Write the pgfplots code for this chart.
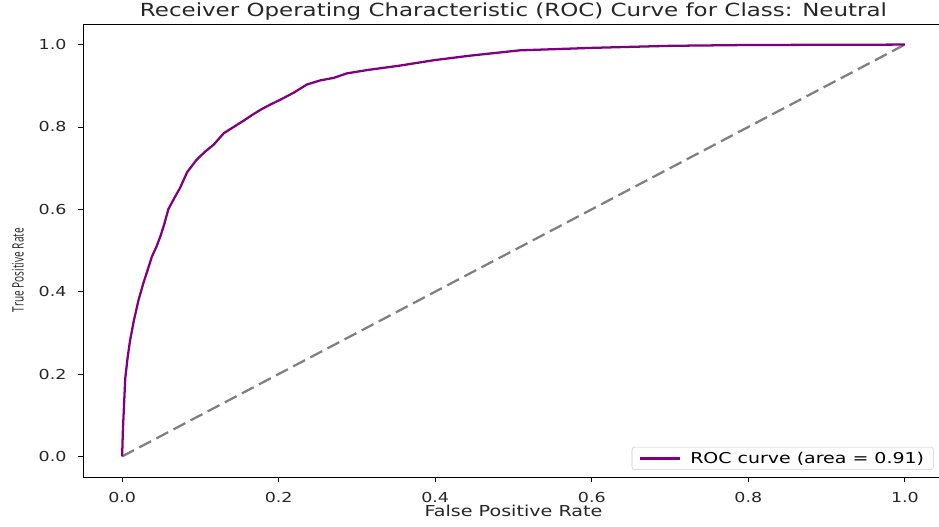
\documentclass[border=0pt]{standalone}
\usepackage{fontspec}
\setmainfont{DejaVu Sans}[FakeStretch=1.27]
\newfontfamily\ylabfont{Open Sans}
\usepackage{pgfplots}
\pgfplotsset{compat=1.18}
\definecolor{mplpurple}{HTML}{800080}
\definecolor{mplgray}{HTML}{808080}
\begin{document}
\begin{tikzpicture}
\begin{axis}[
  scale only axis,
  width=645.75pt, height=339.75pt,
  xmin=-0.05, xmax=1.05, ymin=-0.05, ymax=1.05,
  xtick={0,0.2,0.4,0.6,0.8,1.0},
  ytick={0,0.2,0.4,0.6,0.8,1.0},
  xticklabels={0.0,0.2,0.4,0.6,0.8,1.0},
  yticklabels={0.0,0.2,0.4,0.6,0.8,1.0},
  /pgf/number format/assume math mode=true,
  tick align=outside,
  major tick length=3.75pt,
  tick style={black, line width=0.6pt},
  axis line style={black, line width=0.6pt},
  axis x line*=bottom, axis y line*=left,
  tick label style={font=\fontsize{10.3pt}{12pt}\selectfont, color=black!85},
  xticklabel style={anchor=base, inner sep=0pt, yshift=-15.75pt},
  yticklabel style={anchor=east, inner sep=0pt, xshift=-8.5pt},
  xtick pos=bottom, ytick pos=left,
  xlabel={False Positive Rate},
  xlabel style={font=\fontsize{11.3pt}{13pt}\selectfont, color=black!85, at={(axis description cs:0.5,0)}, anchor=base, yshift=-30pt, inner sep=0pt},
  ylabel={\scalebox{1}[1.55]{\ylabfont\fontsize{7.6pt}{9pt}\selectfont True Positive Rate}},
  ylabel style={color=black!85, at={(axis description cs:-0.0755,0.457)}, anchor=center, rotate=0, inner sep=0pt},
  legend style={at={(axis description cs:0.988,0.0155)}, anchor=south east,
    draw=black!20, rounded corners=2pt, fill=white, fill opacity=0.8, text opacity=1,
    font=\fontsize{11.2pt}{13pt}\selectfont, inner xsep=5pt, inner ysep=1.5pt,
    row sep=0pt, nodes={inner sep=2pt}},
  legend cell align=left,
  legend image code/.code={\draw[#1] (0pt,0pt) -- (30pt,0pt);},
  clip=false,
]
\addplot[mplgray, line width=1.7pt, dash pattern=on 10pt off 4.5pt, forget plot] coordinates {(0,0) (1,1)};
\addplot[mplpurple, line width=1.7pt] coordinates {
(0,0) (0.001,0.065) (0.004,0.19) (0.007,0.24) (0.010,0.28) (0.015,0.33) (0.021,0.38)
(0.027,0.42) (0.033,0.455) (0.038,0.485) (0.044,0.51) (0.049,0.535) (0.054,0.565) (0.059,0.60) (0.066,0.625) (0.074,0.652)
(0.083,0.69) (0.095,0.72) (0.106,0.74) (0.117,0.757) (0.123,0.77) (0.130,0.785) (0.140,0.797) (0.155,0.815) (0.166,0.829)
(0.178,0.843) (0.190,0.855) (0.202,0.866) (0.219,0.883) (0.236,0.903) (0.253,0.913)
(0.270,0.919) (0.287,0.930) (0.3125,0.938) (0.355,0.949) (0.398,0.962)
(0.444,0.973) (0.508,0.986) (0.60,0.992) (0.70,0.997) (0.80,0.999) (1,1)
};
\addlegendentry{\hspace{5pt}ROC curve (area = 0.91)}
\draw[black, line width=0.6pt] (rel axis cs:0,1) -- (rel axis cs:1,1) -- (rel axis cs:1,0);
\node[anchor=base, inner sep=0pt, font=\fontsize{13.55pt}{16pt}\selectfont, color=black!85] at ([yshift=5.25pt]rel axis cs:0.5,1) {Receiver Operating Characteristic (ROC) Curve for Class: Neutral};
\coordinate (O) at (rel axis cs:0,0);
\end{axis}
\pgfresetboundingbox
\path[use as bounding box] ([shift={(-62.25pt,-37.5pt)}]O) rectangle ([shift={(642pt,357.75pt)}]O);
\end{tikzpicture}
\end{document}
